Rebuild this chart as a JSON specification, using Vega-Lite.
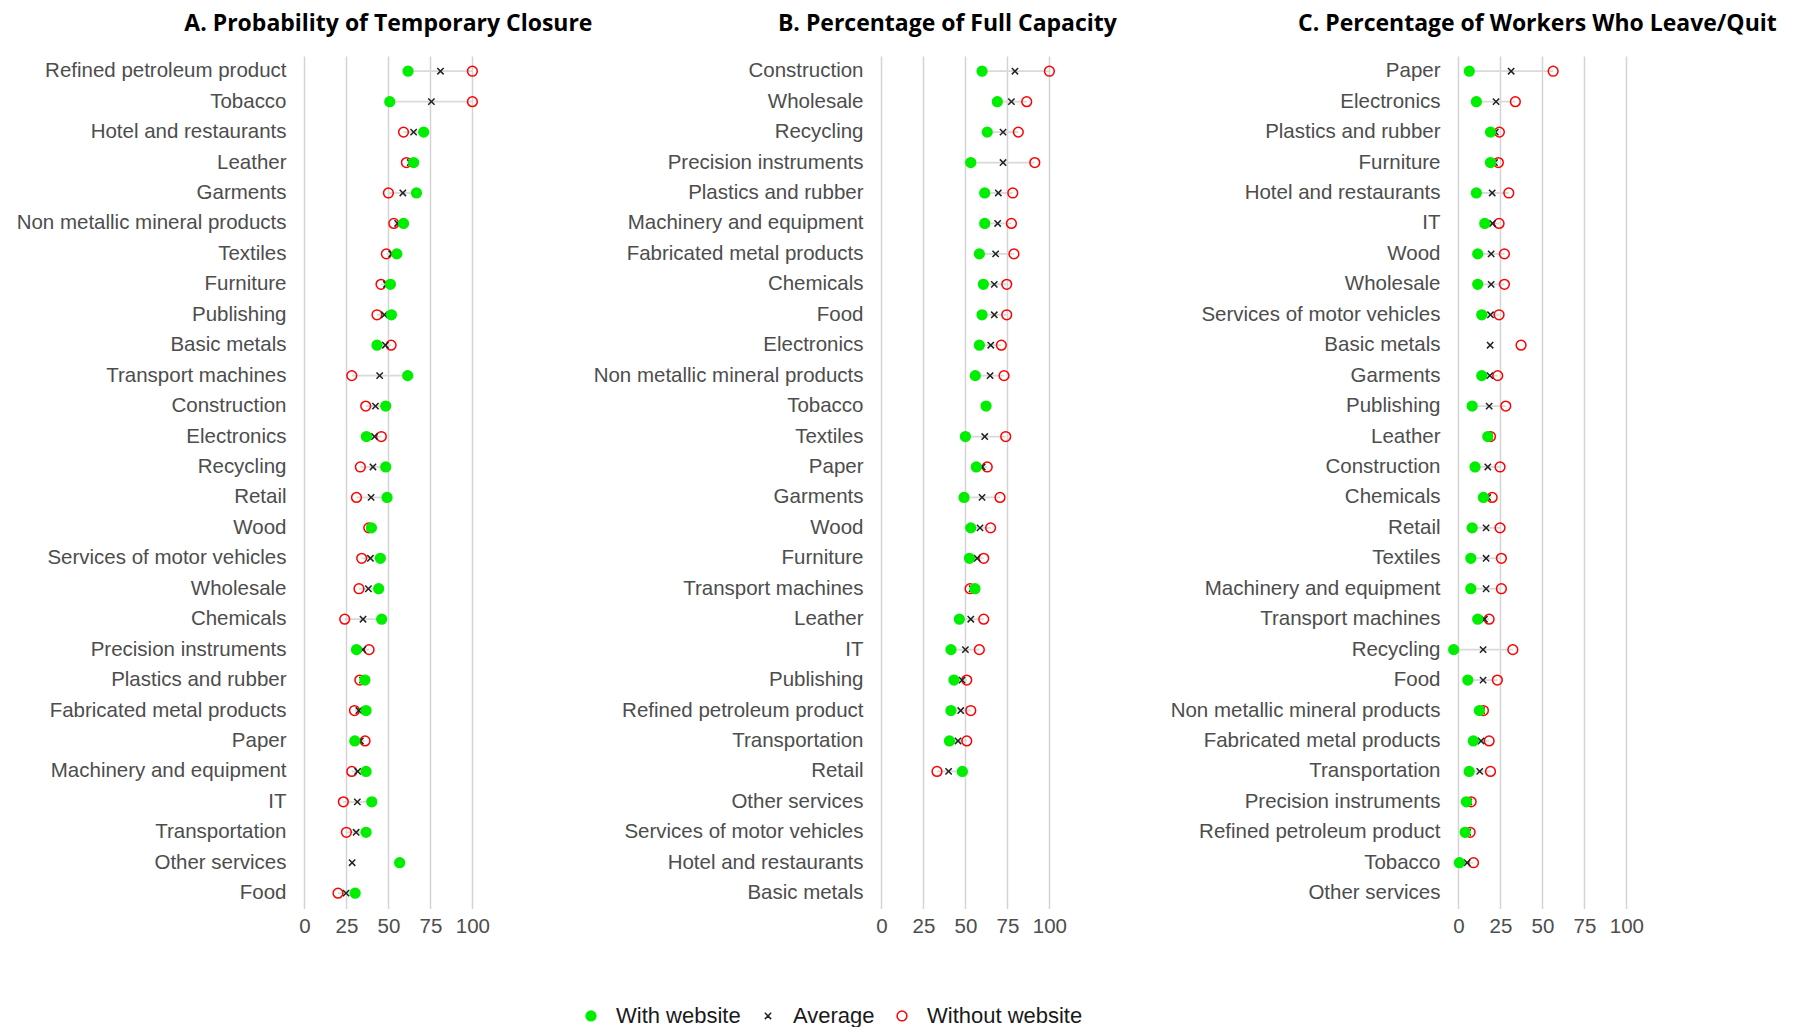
{
  "$schema": "https://vega.github.io/schema/vega-lite/v6.json",
  "background": "white",
  "padding": {"left": 15, "top": 13, "right": 0, "bottom": 0},
  "bounds": "flush",
  "spacing": 392,
  "datasets": {
    "rows": [
      {"panel": "A", "sector": "Refined petroleum product", "With website": 61.7, "Average": 81, "Without website": 100},
      {"panel": "A", "sector": "Tobacco", "With website": 50.8, "Average": 75.6, "Without website": 100},
      {"panel": "A", "sector": "Hotel and restaurants", "With website": 71, "Average": 65, "Without website": 59},
      {"panel": "A", "sector": "Leather", "With website": 65, "Average": 63, "Without website": 60.7},
      {"panel": "A", "sector": "Garments", "With website": 66.7, "Average": 58.6, "Without website": 50},
      {"panel": "A", "sector": "Non metallic mineral products", "With website": 59, "Average": 55.5, "Without website": 53.2},
      {"panel": "A", "sector": "Textiles", "With website": 55, "Average": 52, "Without website": 48.8},
      {"panel": "A", "sector": "Furniture", "With website": 51.2, "Average": 48.8, "Without website": 45.6},
      {"panel": "A", "sector": "Publishing", "With website": 51.8, "Average": 47.6, "Without website": 43.2},
      {"panel": "A", "sector": "Basic metals", "With website": 43.2, "Average": 48.2, "Without website": 51.6},
      {"panel": "A", "sector": "Transport machines", "With website": 61.5, "Average": 44.8, "Without website": 28.2},
      {"panel": "A", "sector": "Construction", "With website": 48.4, "Average": 42.3, "Without website": 36.5},
      {"panel": "A", "sector": "Electronics", "With website": 36.9, "Average": 41.7, "Without website": 45.8},
      {"panel": "A", "sector": "Recycling", "With website": 48.4, "Average": 40.8, "Without website": 33.3},
      {"panel": "A", "sector": "Retail", "With website": 49.2, "Average": 39.7, "Without website": 31},
      {"panel": "A", "sector": "Wood", "With website": 39.9, "Average": 39.2, "Without website": 38.3},
      {"panel": "A", "sector": "Services of motor vehicles", "With website": 45.2, "Average": 39.3, "Without website": 34.1},
      {"panel": "A", "sector": "Wholesale", "With website": 44.2, "Average": 38.1, "Without website": 32.5},
      {"panel": "A", "sector": "Chemicals", "With website": 46, "Average": 34.9, "Without website": 24},
      {"panel": "A", "sector": "Precision instruments", "With website": 31, "Average": 34.7, "Without website": 38.5},
      {"panel": "A", "sector": "Plastics and rubber", "With website": 36, "Average": 34.6, "Without website": 33},
      {"panel": "A", "sector": "Fabricated metal products", "With website": 36.7, "Average": 32.4, "Without website": 29.8},
      {"panel": "A", "sector": "Paper", "With website": 30, "Average": 33.3, "Without website": 36.1},
      {"panel": "A", "sector": "Machinery and equipment", "With website": 36.7, "Average": 31.7, "Without website": 28.2},
      {"panel": "A", "sector": "IT", "With website": 40.1, "Average": 31.5, "Without website": 23.2},
      {"panel": "A", "sector": "Transportation", "With website": 36.7, "Average": 30.8, "Without website": 25},
      {"panel": "A", "sector": "Other services", "With website": 56.7, "Average": 28.4, "Without website": null},
      {"panel": "A", "sector": "Food", "With website": 30.2, "Average": 24.8, "Without website": 20},

      {"panel": "B", "sector": "Construction", "With website": 59.9, "Average": 79.5, "Without website": 100},
      {"panel": "B", "sector": "Wholesale", "With website": 69, "Average": 77.4, "Without website": 86.5},
      {"panel": "B", "sector": "Recycling", "With website": 63, "Average": 72.4, "Without website": 81.5},
      {"panel": "B", "sector": "Precision instruments", "With website": 53.2, "Average": 72.4, "Without website": 91.3},
      {"panel": "B", "sector": "Plastics and rubber", "With website": 61.5, "Average": 69.6, "Without website": 78.2},
      {"panel": "B", "sector": "Machinery and equipment", "With website": 61.5, "Average": 69.2, "Without website": 77.4},
      {"panel": "B", "sector": "Fabricated metal products", "With website": 58.3, "Average": 68, "Without website": 78.9},
      {"panel": "B", "sector": "Chemicals", "With website": 60.7, "Average": 67.2, "Without website": 74.6},
      {"panel": "B", "sector": "Food", "With website": 59.9, "Average": 67.2, "Without website": 74.6},
      {"panel": "B", "sector": "Electronics", "With website": 58.3, "Average": 65.1, "Without website": 71.4},
      {"panel": "B", "sector": "Non metallic mineral products", "With website": 55.9, "Average": 64.7, "Without website": 73},
      {"panel": "B", "sector": "Tobacco", "With website": 62.3, "Average": null, "Without website": null},
      {"panel": "B", "sector": "Textiles", "With website": 50, "Average": 61.5, "Without website": 74},
      {"panel": "B", "sector": "Paper", "With website": 56.5, "Average": 60, "Without website": 63},
      {"panel": "B", "sector": "Garments", "With website": 49.2, "Average": 59.9, "Without website": 70.6},
      {"panel": "B", "sector": "Wood", "With website": 53.2, "Average": 58.7, "Without website": 65},
      {"panel": "B", "sector": "Furniture", "With website": 52.4, "Average": 57, "Without website": 60.9},
      {"panel": "B", "sector": "Transport machines", "With website": 55.7, "Average": 54, "Without website": 52.8},
      {"panel": "B", "sector": "Leather", "With website": 46.4, "Average": 53.2, "Without website": 60.9},
      {"panel": "B", "sector": "IT", "With website": 41.4, "Average": 50, "Without website": 58.3},
      {"panel": "B", "sector": "Publishing", "With website": 43.2, "Average": 48, "Without website": 50.8},
      {"panel": "B", "sector": "Refined petroleum product", "With website": 41.4, "Average": 47.2, "Without website": 53.2},
      {"panel": "B", "sector": "Transportation", "With website": 40.5, "Average": 45.6, "Without website": 50.8},
      {"panel": "B", "sector": "Retail", "With website": 48.2, "Average": 40, "Without website": 33.1},
      {"panel": "B", "sector": "Other services", "With website": null, "Average": null, "Without website": null},
      {"panel": "B", "sector": "Services of motor vehicles", "With website": null, "Average": null, "Without website": null},
      {"panel": "B", "sector": "Hotel and restaurants", "With website": null, "Average": null, "Without website": null},
      {"panel": "B", "sector": "Basic metals", "With website": null, "Average": null, "Without website": null},

      {"panel": "C", "sector": "Paper", "With website": 6.5, "Average": 31.4, "Without website": 56.4},
      {"panel": "C", "sector": "Electronics", "With website": 10.7, "Average": 22.4, "Without website": 33.9},
      {"panel": "C", "sector": "Plastics and rubber", "With website": 19.1, "Average": 22, "Without website": 24.4},
      {"panel": "C", "sector": "Furniture", "With website": 19.1, "Average": 21.5, "Without website": 23.8},
      {"panel": "C", "sector": "Hotel and restaurants", "With website": 10.7, "Average": 20.1, "Without website": 30},
      {"panel": "C", "sector": "IT", "With website": 15.7, "Average": 20.3, "Without website": 24.2},
      {"panel": "C", "sector": "Wood", "With website": 11.5, "Average": 19.5, "Without website": 27.4},
      {"panel": "C", "sector": "Wholesale", "With website": 11.5, "Average": 19.5, "Without website": 27.4},
      {"panel": "C", "sector": "Services of motor vehicles", "With website": 13.9, "Average": 19.1, "Without website": 24.2},
      {"panel": "C", "sector": "Basic metals", "With website": null, "Average": 18.9, "Without website": 37.3},
      {"panel": "C", "sector": "Garments", "With website": 13.9, "Average": 18.7, "Without website": 23.4},
      {"panel": "C", "sector": "Publishing", "With website": 8.2, "Average": 18.3, "Without website": 28.2},
      {"panel": "C", "sector": "Leather", "With website": 17.5, "Average": 18.3, "Without website": 19.1},
      {"panel": "C", "sector": "Construction", "With website": 9.9, "Average": 17.5, "Without website": 24.8},
      {"panel": "C", "sector": "Chemicals", "With website": 14.9, "Average": 17.5, "Without website": 20.1},
      {"panel": "C", "sector": "Retail", "With website": 8.2, "Average": 16.5, "Without website": 24.8},
      {"panel": "C", "sector": "Textiles", "With website": 7.4, "Average": 16.5, "Without website": 25.6},
      {"panel": "C", "sector": "Machinery and equipment", "With website": 7.4, "Average": 16.5, "Without website": 25.6},
      {"panel": "C", "sector": "Transport machines", "With website": 11.5, "Average": 15.5, "Without website": 18.3},
      {"panel": "C", "sector": "Recycling", "With website": -2.8, "Average": 14.7, "Without website": 32.4},
      {"panel": "C", "sector": "Food", "With website": 5.6, "Average": 14.7, "Without website": 23.2},
      {"panel": "C", "sector": "Non metallic mineral products", "With website": 12.5, "Average": 13.8, "Without website": 14.9},
      {"panel": "C", "sector": "Fabricated metal products", "With website": 8.9, "Average": 13.5, "Without website": 18.3},
      {"panel": "C", "sector": "Transportation", "With website": 6.4, "Average": 12.7, "Without website": 19.1},
      {"panel": "C", "sector": "Precision instruments", "With website": 4.8, "Average": 6.2, "Without website": 7.6},
      {"panel": "C", "sector": "Refined petroleum product", "With website": 4, "Average": 5.5, "Without website": 7},
      {"panel": "C", "sector": "Tobacco", "With website": 0.6, "Average": 5.2, "Without website": 9},
      {"panel": "C", "sector": "Other services", "With website": null, "Average": null, "Without website": null}
    ]
  },
  "data": {"name": "rows"},
  "config": {
    "view": {"stroke": null},
    "font": "Liberation Sans",
    "title": {"font": "Open Sans", "fontSize": 23, "fontWeight": "bold", "color": "#000000", "anchor": "middle", "frame": "group", "baseline": "alphabetic", "offset": 20},
    "axisX": {"domain": false, "ticks": false, "grid": true, "gridColor": "#d4d4d4", "gridWidth": 1.5, "labelFont": "Liberation Sans", "labelFontSize": 20.5, "labelColor": "#4d4d4d", "labelPadding": 8, "title": null, "labelFlush": false},
    "axisY": {"domain": false, "ticks": false, "grid": false, "labelFont": "Liberation Sans", "labelFontSize": 20.5, "labelColor": "#4d4d4d", "labelPadding": 10, "labelLimit": 400, "title": null},
    "legend": {"orient": "none", "legendX": 284, "legendY": 949, "direction": "horizontal", "title": null, "labelFontSize": 22, "labelColor": "#1a1a1a", "labelFont": "Liberation Sans", "labelOffset": 14, "columnPadding": 16, "symbolStrokeWidth": 1.5, "padding": 0}
  },
  "resolve": {"scale": {"x": "independent", "y": "independent", "fill": "shared", "stroke": "shared", "shape": "shared", "size": "shared"}},
  "hconcat": [
    {
      "title": {"text": "A. Probability of Temporary Closure"},
      "width": 184.8,
      "height": 852.4,
      "transform": [{"filter": "datum.panel === 'A'"}],
      "layer": [
        {
          "transform": [{"filter": "isValid(datum['With website']) && isValid(datum['Without website'])"}],
          "mark": {"type": "rule", "color": "#d9d9d9", "strokeWidth": 1.8},
          "encoding": {
            "y": {"field": "sector", "type": "nominal", "scale": {"domain": ["Refined petroleum product", "Tobacco", "Hotel and restaurants", "Leather", "Garments", "Non metallic mineral products", "Textiles", "Furniture", "Publishing", "Basic metals", "Transport machines", "Construction", "Electronics", "Recycling", "Retail", "Wood", "Services of motor vehicles", "Wholesale", "Chemicals", "Precision instruments", "Plastics and rubber", "Fabricated metal products", "Paper", "Machinery and equipment", "IT", "Transportation", "Other services", "Food"]}},
            "x": {"field": "With website", "type": "quantitative", "scale": {"domain": [-5, 105], "nice": false, "zero": false}, "axis": {"values": [0, 25, 50, 75, 100]}},
            "x2": {"field": "Without website"}
          }
        },
        {
          "transform": [{"fold": ["Without website", "Average", "With website"], "as": ["key", "value"]}, {"filter": "isValid(datum.value)"}],
          "mark": {"type": "point", "opacity": 1, "strokeWidth": 1.5},
          "encoding": {
            "y": {"field": "sector", "type": "nominal"},
            "x": {"field": "value", "type": "quantitative"},
            "shape": {"field": "key", "type": "nominal", "scale": {"domain": ["With website", "Average", "Without website"], "range": ["circle", "M-1,-1L1,1M-1,1L1,-1", "circle"]}},
            "fill": {"field": "key", "type": "nominal", "scale": {"domain": ["With website", "Average", "Without website"], "range": ["#00ee00", "transparent", "transparent"]}},
            "stroke": {"field": "key", "type": "nominal", "scale": {"domain": ["With website", "Average", "Without website"], "range": ["#00ee00", "#222222", "#ff0000"]}},
            "size": {"field": "key", "type": "ordinal", "scale": {"type": "ordinal", "domain": ["With website", "Average", "Without website"], "range": [95, 40, 95]}}
          }
        }
      ]
    },
    {
      "title": {"text": "B. Percentage of Full Capacity", "dx": -18},
      "width": 184.8,
      "height": 852.4,
      "transform": [{"filter": "datum.panel === 'B'"}],
      "layer": [
        {
          "transform": [{"filter": "isValid(datum['With website']) && isValid(datum['Without website'])"}],
          "mark": {"type": "rule", "color": "#d9d9d9", "strokeWidth": 1.8},
          "encoding": {
            "y": {"field": "sector", "type": "nominal", "scale": {"domain": ["Construction", "Wholesale", "Recycling", "Precision instruments", "Plastics and rubber", "Machinery and equipment", "Fabricated metal products", "Chemicals", "Food", "Electronics", "Non metallic mineral products", "Tobacco", "Textiles", "Paper", "Garments", "Wood", "Furniture", "Transport machines", "Leather", "IT", "Publishing", "Refined petroleum product", "Transportation", "Retail", "Other services", "Services of motor vehicles", "Hotel and restaurants", "Basic metals"]}},
            "x": {"field": "With website", "type": "quantitative", "scale": {"domain": [-5, 105], "nice": false, "zero": false}, "axis": {"values": [0, 25, 50, 75, 100]}},
            "x2": {"field": "Without website"}
          }
        },
        {
          "transform": [{"fold": ["Without website", "Average", "With website"], "as": ["key", "value"]}, {"filter": "isValid(datum.value)"}],
          "mark": {"type": "point", "opacity": 1, "strokeWidth": 1.5},
          "encoding": {
            "y": {"field": "sector", "type": "nominal"},
            "x": {"field": "value", "type": "quantitative"},
            "shape": {"field": "key", "type": "nominal", "scale": {"domain": ["With website", "Average", "Without website"], "range": ["circle", "M-1,-1L1,1M-1,1L1,-1", "circle"]}},
            "fill": {"field": "key", "type": "nominal", "scale": {"domain": ["With website", "Average", "Without website"], "range": ["#00ee00", "transparent", "transparent"]}},
            "stroke": {"field": "key", "type": "nominal", "scale": {"domain": ["With website", "Average", "Without website"], "range": ["#00ee00", "#222222", "#ff0000"]}},
            "size": {"field": "key", "type": "ordinal", "scale": {"type": "ordinal", "domain": ["With website", "Average", "Without website"], "range": [95, 40, 95]}}
          }
        }
      ]
    },
    {
      "title": {"text": "C. Percentage of Workers Who Leave/Quit", "dx": -5},
      "width": 184.8,
      "height": 852.4,
      "transform": [{"filter": "datum.panel === 'C'"}],
      "layer": [
        {
          "transform": [{"filter": "isValid(datum['With website']) && isValid(datum['Without website'])"}],
          "mark": {"type": "rule", "color": "#d9d9d9", "strokeWidth": 1.8},
          "encoding": {
            "y": {"field": "sector", "type": "nominal", "scale": {"domain": ["Paper", "Electronics", "Plastics and rubber", "Furniture", "Hotel and restaurants", "IT", "Wood", "Wholesale", "Services of motor vehicles", "Basic metals", "Garments", "Publishing", "Leather", "Construction", "Chemicals", "Retail", "Textiles", "Machinery and equipment", "Transport machines", "Recycling", "Food", "Non metallic mineral products", "Fabricated metal products", "Transportation", "Precision instruments", "Refined petroleum product", "Tobacco", "Other services"]}},
            "x": {"field": "With website", "type": "quantitative", "scale": {"domain": [-5, 105], "nice": false, "zero": false}, "axis": {"values": [0, 25, 50, 75, 100]}},
            "x2": {"field": "Without website"}
          }
        },
        {
          "transform": [{"fold": ["Without website", "Average", "With website"], "as": ["key", "value"]}, {"filter": "isValid(datum.value)"}],
          "mark": {"type": "point", "opacity": 1, "strokeWidth": 1.5},
          "encoding": {
            "y": {"field": "sector", "type": "nominal"},
            "x": {"field": "value", "type": "quantitative"},
            "shape": {"field": "key", "type": "nominal", "scale": {"domain": ["With website", "Average", "Without website"], "range": ["circle", "M-1,-1L1,1M-1,1L1,-1", "circle"]}},
            "fill": {"field": "key", "type": "nominal", "scale": {"domain": ["With website", "Average", "Without website"], "range": ["#00ee00", "transparent", "transparent"]}},
            "stroke": {"field": "key", "type": "nominal", "scale": {"domain": ["With website", "Average", "Without website"], "range": ["#00ee00", "#222222", "#ff0000"]}},
            "size": {"field": "key", "type": "ordinal", "scale": {"type": "ordinal", "domain": ["With website", "Average", "Without website"], "range": [95, 40, 95]}}
          }
        }
      ]
    }
  ]
}
